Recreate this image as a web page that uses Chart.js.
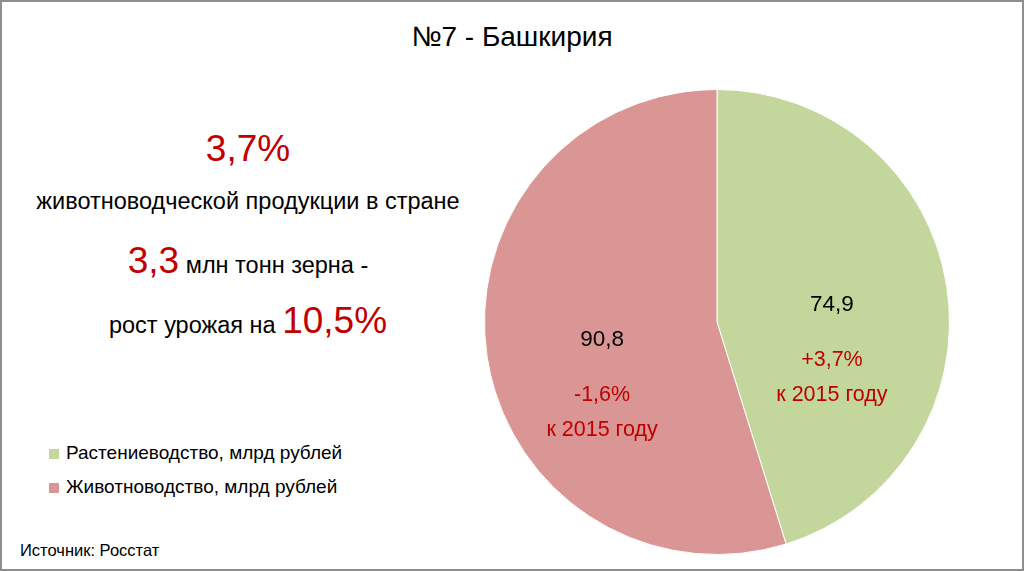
<!DOCTYPE html>
<html>
<head>
<meta charset="utf-8">
<script src="https://cdn.jsdelivr.net/npm/chart.js@4.4.0/dist/chart.umd.min.js"></script>
<style>
  body { margin: 0; background: #fff; font-family: 'Liberation Sans', Arial, sans-serif; }
  .slide { position: relative; width: 1024px; height: 571px; box-sizing: border-box; border: 2px solid #8e8e8e; overflow: hidden; }
  .title { position: absolute; left: 0; top: 19px; width: 1020px; text-align: center; font-size: 28px; color: #000; }
  .facts { position: absolute; left: 23px; width: 446px; text-align: center; color: #000; font-size: 23.5px; white-space: nowrap; }
  .big { color: #c00000; font-size: 37px; }
  .legend { position: absolute; left: 47px; top: 439px; font-size: 19px; color: #000; }
  .legend div { height: 34px; line-height: 24px; }
  .legend span.box { display: inline-block; width: 10px; height: 10px; margin-right: 7px; }
  .source { position: absolute; left: 18px; top: 539px; font-size: 16.5px; color: #000; }
  #pie { position: absolute; left: 482px; top: 87px; }
</style>
</head>
<body>
<div class="slide">
  <div class="title">№7 - Башкирия</div>
  <div class="facts" style="top:126px"><span class="big">3,7%</span></div>
  <div class="facts" style="top:186px">животноводческой продукции в стране</div>
  <div class="facts" style="top:238px"><span class="big">3,3</span> млн тонн зерна -</div>
  <div class="facts" style="top:298px">рост урожая на <span class="big">10,5%</span></div>
  <div class="legend" id="legend"></div>
  <div class="source">Источник: Росстат</div>
  <canvas id="pie" width="466" height="466"></canvas>
</div>
<script>
const categories = ['Растениеводство, млрд рублей', 'Животноводство, млрд рублей'];
const values = [74.9, 90.8];
const valueLabels = ['74,9', '90,8'];
const changeLabels = ['+3,7%', '-1,6%'];
const colors = ['#c3d69b', '#d99694'];

// legend on the left, built from the same arrays
const legend = document.getElementById('legend');
categories.forEach((name, i) => {
  const row = document.createElement('div');
  row.innerHTML = '<span class="box" style="background:' + colors[i] + '"></span>' + name;
  legend.appendChild(row);
});

// labels inside each slice: value, change, "к 2015 году"
const sliceLabels = {
  id: 'sliceLabels',
  afterDatasetsDraw(chart) {
    const ctx = chart.ctx;
    chart.getDatasetMeta(0).data.forEach((arc, i) => {
      const p = arc.getProps(['x', 'y', 'startAngle', 'endAngle', 'outerRadius'], true);
      const mid = (p.startAngle + p.endAngle) / 2;
      const lx = p.x + Math.cos(mid) * p.outerRadius * 0.5;
      const ly = p.y + Math.sin(mid) * p.outerRadius * 0.5;
      ctx.save();
      ctx.textAlign = 'center';
      ctx.textBaseline = 'middle';
      ctx.font = '22.5px "Liberation Sans", Arial, sans-serif';
      ctx.fillStyle = '#000';
      ctx.fillText(valueLabels[i], lx, ly);
      ctx.font = '21.5px "Liberation Sans", Arial, sans-serif';
      ctx.fillStyle = '#c00000';
      ctx.fillText(changeLabels[i], lx, ly + 56);
      ctx.fillText('к 2015 году', lx, ly + 91);
      ctx.restore();
    });
  }
};

new Chart(document.getElementById('pie'), {
  type: 'pie',
  data: {
    labels: categories,
    datasets: [{
      data: values,
      backgroundColor: colors,
      borderColor: '#ffffff',
      borderWidth: 1,
      hoverOffset: 0
    }]
  },
  options: {
    responsive: false,
    animation: false,
    layout: { padding: 0 },
    plugins: {
      legend: { display: false },
      tooltip: { enabled: false }
    }
  },
  plugins: [sliceLabels]
});
</script>
</body>
</html>
